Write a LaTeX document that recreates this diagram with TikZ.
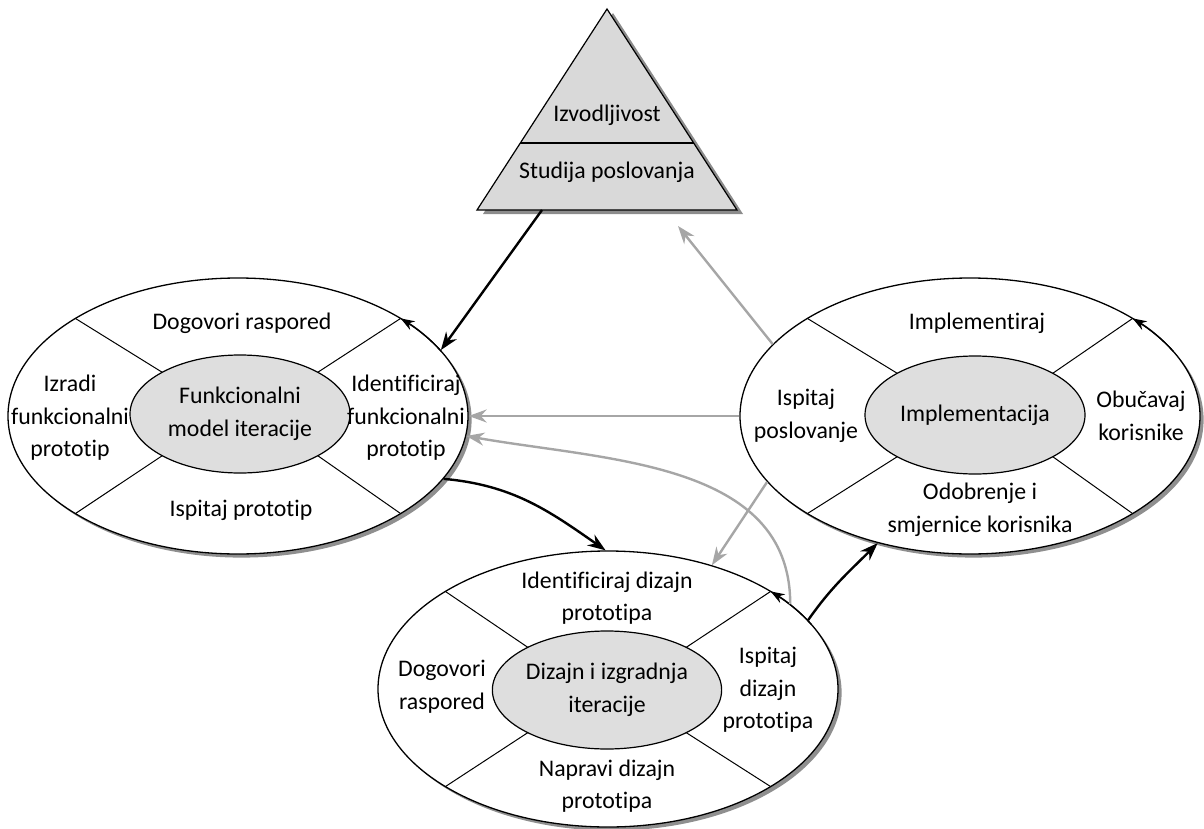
\documentclass[tikz,border=0pt]{standalone}
\usepackage{fontspec}
\setmainfont{Carlito}[Ligatures=NoCommon]
\usetikzlibrary{shapes.geometric,shadows,arrows.meta}

\newcommand{\lblfont}{\fontsize{11.9pt}{16.3pt}\selectfont}

\tikzset{
  ring/.style={ellipse, draw, line width=0.65pt, fill=white, inner sep=0pt,
    minimum width=230pt, minimum height=138pt,
    drop shadow={shadow xshift=1.8pt, shadow yshift=-1.8pt, fill=black!55, opacity=0.8}},
  core/.style={ellipse, draw, line width=0.6pt, fill=black!13, inner sep=0pt,
    minimum width=110pt, minimum height=59pt, align=center, font=\lblfont},
  lbl/.style={align=center, font=\lblfont},
  blk/.style={line width=1.2pt, -{Stealth[length=9pt,width=6.5pt]}},
  gry/.style={line width=1.2pt, black!35, -{Stealth[length=9pt,width=6.5pt]}},
  turn/.style={line width=0.65pt, -{Stealth[length=7pt,width=5pt]}}
}

\begin{document}
\begin{tikzpicture}[x=0.5pt, y=0.5pt]
      \useasboundingbox (0,0) rectangle (1204,-829);

      % Outer rings
      \node[ring] (fun) at (238,-416) {};
      \node[ring] (imp) at (970,-416) {};
      \node[ring] (diz) at (608,-689) {};

      % Dividers, left ring
      \draw[line width=0.5pt] ([shift={(45:55pt and 29.5pt)}]240,-414) -- ([shift={(45:115pt and 69pt)}]fun.center);
      \draw[line width=0.5pt] ([shift={(135:55pt and 29.5pt)}]240,-414) -- ([shift={(135:115pt and 69pt)}]fun.center);
      \draw[line width=0.5pt] ([shift={(225:55pt and 29.5pt)}]240,-414) -- ([shift={(225:115pt and 69pt)}]fun.center);
      \draw[line width=0.5pt] ([shift={(315:55pt and 29.5pt)}]240,-414) -- ([shift={(315:115pt and 69pt)}]fun.center);

      % Dividers, right ring
      \draw[line width=0.5pt] ([shift={(45:55pt and 29.5pt)}]975,-415) -- ([shift={(45:115pt and 69pt)}]imp.center);
      \draw[line width=0.5pt] ([shift={(135:55pt and 29.5pt)}]975,-415) -- ([shift={(135:115pt and 69pt)}]imp.center);
      \draw[line width=0.5pt] ([shift={(225:55pt and 29.5pt)}]975,-415) -- ([shift={(225:115pt and 69pt)}]imp.center);
      \draw[line width=0.5pt] ([shift={(315:55pt and 29.5pt)}]975,-415) -- ([shift={(315:115pt and 69pt)}]imp.center);

      % Dividers, bottom ring
      \draw[line width=0.5pt] ([shift={(45:55pt and 29.5pt)}]607,-690) -- ([shift={(45:115pt and 69pt)}]diz.center);
      \draw[line width=0.5pt] ([shift={(135:55pt and 29.5pt)}]607,-690) -- ([shift={(135:115pt and 69pt)}]diz.center);
      \draw[line width=0.5pt] ([shift={(225:55pt and 29.5pt)}]607,-690) -- ([shift={(225:115pt and 69pt)}]diz.center);
      \draw[line width=0.5pt] ([shift={(315:55pt and 29.5pt)}]607,-690) -- ([shift={(315:115pt and 69pt)}]diz.center);

      % Cores
      \node[core] (funC) at (240,-414) {Funkcionalni\\model iteracije};
      \node[core] (impC) at (975,-415) {Implementacija};
      \node[core] (dizC) at (607,-690) {Dizajn i izgradnja\\iteracije};

      % Turning arrows on the rings
      \draw[turn] ([shift={(28:115pt and 69pt)}]fun.center) arc[start angle=28, end angle=45, x radius=115pt, y radius=69pt];
      \draw[turn] ([shift={(28:115pt and 69pt)}]imp.center) arc[start angle=28, end angle=45, x radius=115pt, y radius=69pt];
      \draw[turn] ([shift={(28:115pt and 69pt)}]diz.center) arc[start angle=28, end angle=45, x radius=115pt, y radius=69pt];

      % Labels, left ring
      \node[lbl] (funN) at (242,-323) {Dogovori raspored};
      \node[lbl] (funW) at (70,-418) {Izradi\\funkcionalni\\prototip};
      \node[lbl] (funE) at (406,-418) {Identificiraj\\funkcionalni\\prototip};
      \node[lbl] (funS) at (241,-510) {Ispitaj prototip};

      % Labels, right ring
      \node[lbl] (impN) at (977,-323) {Implementiraj};
      \node[lbl] (impW) at (806,-416) {Ispitaj\\poslovanje};
      \node[lbl] (impE) at (1141,-416) {Obučavaj\\korisnike};
      \node[lbl] (impS) at (980,-510) {Odobrenje i\\smjernice korisnika};

      % Labels, bottom ring
      \node[lbl] (dizN) at (607,-598) {Identificiraj dizajn\\prototipa};
      \node[lbl] (dizW) at (442,-687) {Dogovori\\raspored};
      \node[lbl] (dizE) at (768,-690) {Ispitaj\\dizajn\\prototipa};
      \node[lbl] (dizS) at (607,-786) {Napravi dizajn\\prototipa};

      % Triangle
      \coordinate (T1) at (607,-9);
      \coordinate (T2) at (477,-210);
      \coordinate (T3) at (737,-210);
      \coordinate (D1) at (520,-143);
      \coordinate (D2) at (694,-143);
      \filldraw[fill=black!15, line width=0.6pt, drop shadow={shadow xshift=3pt, shadow yshift=-2pt, fill=black!45, opacity=1}] (T1) -- (T2) -- (T3) -- cycle;
      \draw[line width=0.6pt] (D1) -- (D2);
      \node[lbl] (izv) at (607,-115) {Izvodljivost};
      \node[lbl] (stu) at (607,-172) {Studija poslovanja};
      \coordinate (Tout) at (542,-210);
      \coordinate (Tin) at (678,-226);

      % Connectors
      \draw[blk] (Tout) -- (fun.18);
      \draw[gry] (imp.160) -- (Tin);
      \draw[gry] (imp.180) -- (fun.0);
      \draw[gry] (diz.25) to[out=90, in=-10] (fun.-5);
      \draw[blk] (fun.-17) to[out=-5, in=145] (diz.91);
      \draw[gry] (imp.198) -- (diz.50);
      \draw[blk] (diz.19) to[out=55, in=225] (imp.234);
\end{tikzpicture}
\end{document}
